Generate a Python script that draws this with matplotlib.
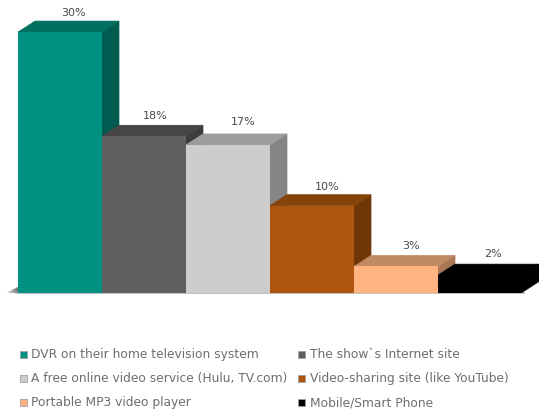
import matplotlib
matplotlib.use('Agg')
import matplotlib.pyplot as plt
import numpy as np
from matplotlib.patches import Polygon, Rectangle

#chart data
labels = ['DVR on their home television system', "The show`s Internet site",
          'A free online video service (Hulu, TV.com)', 'Video-sharing site (like YouTube)',
          'Portable MP3 video player', 'Mobile/Smart Phone']
values = [30, 18, 17, 10, 3, 2]

front_colors = ['#009181', '#5f5f5f', '#cdcdcd', '#ae560f', '#ffb380', '#000000']
top_colors = ['#00705f', '#464646', '#9c9c9c', '#854209', '#c08a62', '#000000']
side_colors = ['#005c50', '#3c3c3c', '#858585', '#6f3706', '#aa7a56', '#000000']

#value label nudges in pixels
label_dx = [13, 11, 15, 15, 15, 13]
label_dy = [9.5, 10.5, 13, 8.5, 10.5, 11.5]

W, H = 539, 410
left_px, base_px = 18, 293.5
bar_px, unit_px = 84, 8.68
depth_x, depth_y = 17 / bar_px, 11 / unit_px

fig = plt.figure(figsize=(W / 100, H / 100), dpi=100)
ax = fig.add_axes([0, 0, 1, 1])
xlim = (-left_px / bar_px, (W - left_px) / bar_px)
ylim = (-(H - base_px) / unit_px, base_px / unit_px)
ax.axis('off')

#shadow under the bars, fades out to the left
sx0, sx1 = -13 / bar_px, 0
grad = ax.imshow(np.linspace(1, 0.45, 32).reshape(1, -1), cmap='gray', vmin=0, vmax=1, aspect='auto',
                 extent=(sx0, sx1, -0.1, 0.7), zorder=0)
grad.set_clip_path(Polygon([(sx0, -0.1), (sx1, 0.65), (sx1, -0.1)], transform=ax.transData))
ax.set_xlim(xlim)
ax.set_ylim(ylim)
ax.plot([-0.02, 6.02], [-0.06, -0.06], color='#b5b5b5', lw=1.2, zorder=0)

#3d bars, later bars cover the side of the one before
for i, v in enumerate(values):
    ax.bar(i, v, width=1, align='edge', color=front_colors[i], lw=0, zorder=3 + i * 0.1)
    top = [(i, v), (i + depth_x, v + depth_y), (i + 1 + depth_x, v + depth_y), (i + 1, v)]
    side = [(i + 1, 0), (i + 1 + depth_x, depth_y), (i + 1 + depth_x, v + depth_y), (i + 1, v)]
    ax.add_patch(Polygon(side, facecolor=side_colors[i], edgecolor=side_colors[i], lw=0.5, zorder=2))
    ax.add_patch(Polygon(top, facecolor=top_colors[i], edgecolor=top_colors[i], lw=0.5, zorder=2))
    ax.text(i + 0.5 + label_dx[i] / bar_px, v + depth_y + label_dy[i] / unit_px, f'{v}%',
            ha='center', va='center', fontsize=8, color='#484848', zorder=5)

#legend in two columns
col_x = [20, 298]
row_y = [355, 379, 403]
for i, lab in enumerate(labels):
    x = col_x[i % 2]
    y = row_y[i // 2]
    fig.add_artist(Rectangle((x / W, 1 - (y + 3.5) / H), 7 / W, 7 / H, transform=fig.transFigure,
                             facecolor=front_colors[i], edgecolor='#a0a0a0', lw=0.6))
    fig.text((x + 11 + (i % 2)) / W, 1 - y / H, lab, fontsize=8.8, color='#6e6e6e', va='center', ha='left')

fig.savefig('out.png', dpi=100)
